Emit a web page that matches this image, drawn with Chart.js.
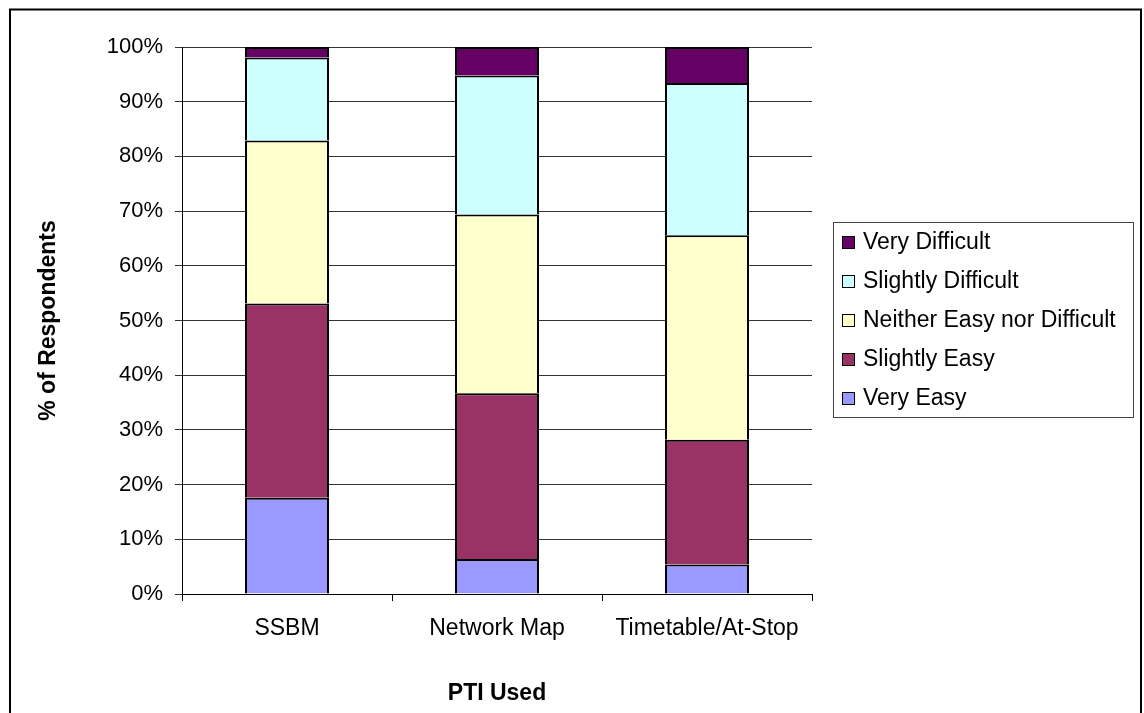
<!DOCTYPE html>
<html>
<head>
<meta charset="utf-8">
<title>PTI Used</title>
<script src="https://cdn.jsdelivr.net/npm/chart.js@4.4.1/dist/chart.umd.min.js"></script>
<style>
  body { margin: 0; background: #fff; }
  canvas { display: block; }
</style>
</head>
<body>
<canvas id="chart" width="1144" height="713"></canvas>
<script>
// Ease of use by PTI type, stacked to 100%

const categories = ["SSBM", "Network Map", "Timetable/At-Stop"];

const veryEasy = [17.6, 6.4, 5.4];
const slightlyEasy = [35.5, 30.3, 22.8];
const neither = [29.8, 32.7, 37.4];
const slightlyDifficult = [15.2, 25.4, 27.8];
const veryDifficult = [1.9, 5.2, 6.6];

const yTicks = [0, 10, 20, 30, 40, 50, 60, 70, 80, 90, 100];

const FONT = "'Liberation Sans', Arial, sans-serif";

function makeSet(label, values, colour) {
    return {
        label: label,
        data: values,
        backgroundColor: colour,
        borderColor: '#000',
        borderWidth: 2,
        borderSkipped: 'bottom',
        barPercentage: 0.4,
        categoryPercentage: 1
    };
}

// frame round the whole chart and the boxed legend on the right
const framePlugin = {
    id: 'frame',
    afterDraw(chart) {
        const ctx = chart.ctx;
        ctx.save();
        ctx.strokeStyle = '#000';
        ctx.lineWidth = 2;
        ctx.strokeRect(10, 9.5, 1131, 720);

        // legend box
        ctx.lineWidth = 1;
        ctx.strokeStyle = '#444';
        ctx.strokeRect(833.5, 222.5, 300, 195);

        const sets = chart.data.datasets.slice().reverse();
        ctx.font = '23px ' + FONT;
        ctx.textBaseline = 'middle';
        ctx.textAlign = 'left';
        sets.forEach((ds, i) => {
            const y = 242 + i * 39;
            ctx.fillStyle = ds.backgroundColor;
            ctx.fillRect(842, y - 6, 13, 13);
            ctx.strokeStyle = '#000';
            ctx.strokeRect(842.5, y - 5.5, 12, 12);
            ctx.fillStyle = '#000';
            ctx.fillText(ds.label, 863, y + 1);
        });
        ctx.restore();
    }
};

const ctx = document.getElementById('chart').getContext('2d');
const chart = new Chart(ctx, {
    type: 'bar',
    data: {
        labels: categories,
        datasets: [
            makeSet('Very Easy', veryEasy, '#9999FF'),
            makeSet('Slightly Easy', slightlyEasy, '#993366'),
            makeSet('Neither Easy nor Difficult', neither, '#FFFFCC'),
            makeSet('Slightly Difficult', slightlyDifficult, '#CCFFFF'),
            makeSet('Very Difficult', veryDifficult, '#660066')
        ]
    },
    options: {
        responsive: false,
        animation: false,
        devicePixelRatio: 1,
        layout: {
            padding: { left: 10, right: 332, top: 47, bottom: 0 }
        },
        plugins: {
            legend: { display: false },
            tooltip: { enabled: false }
        },
        scales: {
            x: {
                stacked: true,
                afterFit: (scale) => { scale.height = 119; },
                grid: {
                    offset: true,
                    drawOnChartArea: false,
                    color: '#000',
                    tickLength: 7
                },
                border: { color: '#000', width: 1 },
                ticks: {
                    color: '#000',
                    padding: 14,
                    font: { family: FONT, size: 23 }
                },
                title: {
                    display: true,
                    text: 'PTI Used',
                    color: '#000',
                    padding: { top: 0, bottom: 6 },
                    font: { family: FONT, size: 23, weight: 'bold' }
                }
            },
            y: {
                stacked: true,
                min: 0,
                max: 100,
                afterFit: (scale) => { scale.width = 172; },
                afterBuildTicks: (scale) => {
                    scale.ticks = yTicks.map(v => ({ value: v }));
                },
                grid: {
                    color: '#333',
                    tickLength: 7
                },
                border: { color: '#000', width: 1 },
                ticks: {
                    color: '#000',
                    padding: 12,
                    font: { family: FONT, size: 22 },
                    callback: (v) => v + '%'
                },
                title: {
                    display: true,
                    text: '% of Respondents',
                    color: '#000',
                    padding: { top: 25, bottom: 0 },
                    font: { family: FONT, size: 23, weight: 'bold' }
                }
            }
        }
    },
    plugins: [framePlugin]
});
</script>
</body>
</html>
